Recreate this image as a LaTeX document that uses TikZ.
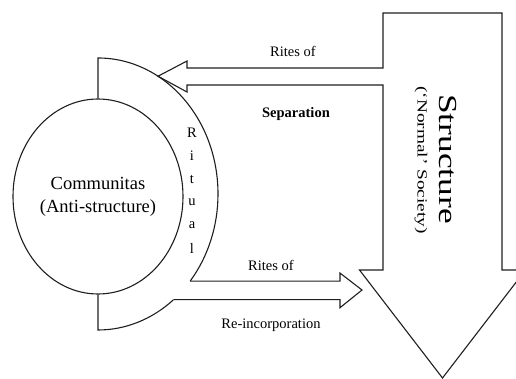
\documentclass[tikz,border=0pt]{standalone}
\usepackage{fontspec}
\setmainfont{Liberation Serif}
\usepackage{graphicx}
\usepackage{tikz}
\usetikzlibrary{shapes.geometric,calc}
\definecolor{ritline}{RGB}{30,30,30}

\begin{document}
\begin{tikzpicture}[x=1pt,y=-1pt,
  edge/.style={draw=ritline,line width=1.1pt,line join=miter},
  lbl/.style={font=\fontsize{14.5}{17}\selectfont,inner sep=0pt}]
  \useasboundingbox (0,0) rectangle (516,379);
  % communitas in the middle of the ritual band
  \node[edge,ellipse,minimum width=170pt,minimum height=195pt,inner sep=0pt,align=center,
    font=\fontsize{18.5}{23}\selectfont] (comm) at (98,196.5) {Communitas\\(Anti-structure)};
  \coordinate (rc) at (98,194);
  \coordinate (sepTip) at ($(rc)+(-60:120 and 136)$);
  \coordinate (incUp) at ($(rc)+(39.8:120 and 136)$);
  \coordinate (incDn) at ($(rc)+(51:120 and 136)$);
  \coordinate (incBack) at (340,0);
  \coordinate (incTip) at (362,290);
  % ritual band
  \draw[edge] (comm.north) -- (98,58)
    arc[start angle=-90,end angle=39.8,x radius=120,y radius=136];
  \draw[edge] (incDn) arc[start angle=51,end angle=90,x radius=120,y radius=136]
    -- (comm.south);
  % structure arrow with rites of separation
  \draw[edge] (383,13) -- (502,13) -- (502,270) -- (525.5,270) -- (442.5,378)
    -- (359.5,270) -- (383,270) -- (383,85) -- (187,85) -- (187,92) -- (sepTip)
    -- (187,61) -- (187,68) -- (383,68) -- cycle;
  % rites of re-incorporation
  \draw[edge] (incUp) -- (incUp -| incBack) -- ++(0,-8) -- (incTip)
    -- ($(incBack |- incDn)+(0,8)$) -- (incBack |- incDn) -- (incDn);
  % labels
  \foreach \c [count=\i] in {R,i,t,u,a,l}
    \node[lbl] (rit\i) at (192,110+23*\i) {\c};
  \node[lbl] (sepA) at (293,51) {Rites of};
  \node[lbl,font=\fontsize{14.5}{17}\selectfont\bfseries] (sepB) at (296,114.5) {Separation};
  \node[lbl] (incA) at (271,265) {Rites of};
  \node[lbl] (incB) at (271,325.5) {Re-incorporation};
  \node[rotate=-90,inner sep=0pt,font=\fontsize{26}{30}\selectfont] (str) at (448,159)
    {\scalebox{1.36}[1]{Structure}};
  \node[rotate=-90,inner sep=0pt,font=\fontsize{14}{16}\selectfont] (soc) at (421,160)
    {\scalebox{1.38}[1]{(`Normal' Society)}};
\end{tikzpicture}
\end{document}
